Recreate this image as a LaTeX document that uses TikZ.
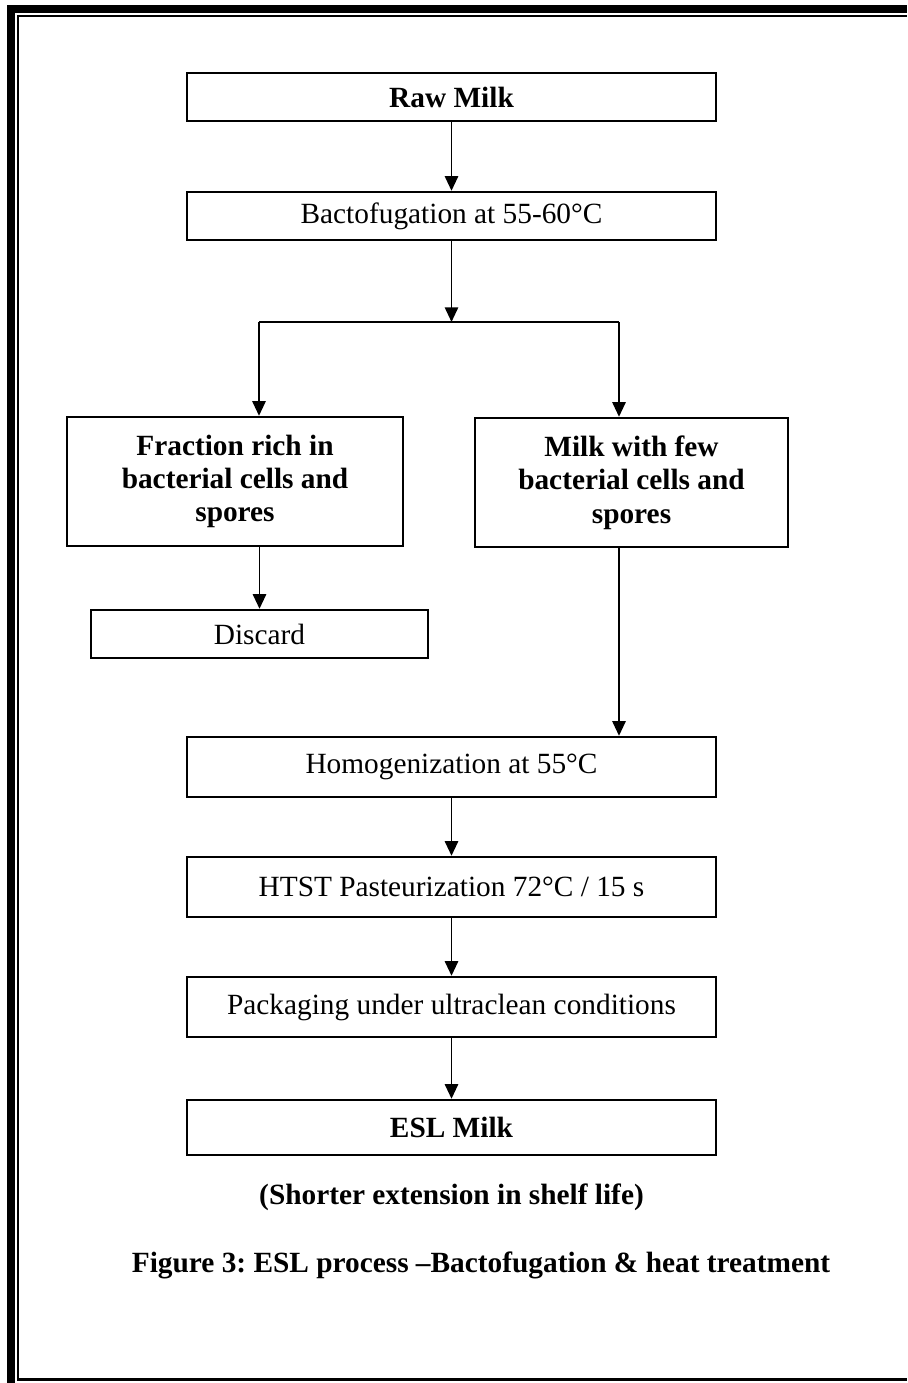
\documentclass[tikz,border=0pt]{standalone}
\usepackage{fontspec}
\setmainfont{Liberation Serif}
\usetikzlibrary{arrows.meta}
\frenchspacing
\tikzset{
  box/.style={draw, line width=1.8pt, inner sep=0pt, align=center,
    font=\fontsize{22}{25}\selectfont},
  boldbox/.style={box, font=\fontsize{22}{25}\selectfont\bfseries},
  arr/.style={line width=1.3pt, -{Triangle[length=11pt,width=10pt]}},
  link/.style={line width=1.3pt},
  capt/.style={font=\fontsize{22}{25}\selectfont\bfseries\frenchspacing, inner sep=0pt}
}
\begin{document}
\begin{tikzpicture}[x=0.75pt,y=-0.75pt]
\useasboundingbox (0,0) rectangle (907,1383);
% page frame
\fill (7,5) rectangle (15,1383);
\fill (7,5) rectangle (907,13);
\fill (17,15) rectangle (19,1381);
\fill (17,15) rectangle (907,17);
\fill (17,1378) rectangle (907,1381);
% boxes
\node[boldbox, minimum width=529*0.75pt, minimum height=48*0.75pt] (raw) at (451.5,97) {Raw Milk};
\node[box, minimum width=529*0.75pt, minimum height=48*0.75pt] (bacto) at (451.5,216) {Bactofugation at 55-60°C};
\node[boldbox, minimum width=336*0.75pt, minimum height=129*0.75pt] (frac) at (235,481.5) {Fraction rich in\\bacterial cells and\\spores};
\node[boldbox, minimum width=313*0.75pt, minimum height=129*0.75pt] (few) at (631.5,482.5) {Milk with few\\bacterial cells and\\spores};
\node[box, minimum width=337*0.75pt, minimum height=48*0.75pt] (discard) at (259.5,634) {Discard};
\node[box, minimum width=529*0.75pt, minimum height=60*0.75pt] (homog) at (451.5,767) {Homogenization at 55°C};
\node[box, minimum width=529*0.75pt, minimum height=60*0.75pt] (htst) at (451.5,887) {HTST Pasteurization 72°C / 15 s};
\node[box, minimum width=529*0.75pt, minimum height=60*0.75pt] (pack) at (451.5,1007) {Packaging under ultraclean conditions};
\node[boldbox, minimum width=529*0.75pt, minimum height=55*0.75pt] (esl) at (451.5,1127.5) {ESL Milk};
% captions
\node[capt] (shelf) at (451.5,1197) {(Shorter extension in shelf life)};
\node[capt] (fig) at (481,1265) {Figure 3: ESL process –Bactofugation \& heat treatment};
% connectors
\coordinate (split) at (451.5,322);
\coordinate (bl) at (259,322);
\coordinate (br) at (619,322);
\draw[arr] (raw) -- (bacto);
\draw[arr] (bacto) -- (split);
\draw[link] (bl) -- (br);
\draw[arr] (bl) -- (bl |- frac.north);
\draw[arr] (br) -- (br |- few.north);
\draw[arr] (frac.south -| discard.north) -- (discard.north);
\draw[arr] (few.south -| br) -- (br |- homog.north);
\draw[arr] (homog) -- (htst);
\draw[arr] (htst) -- (pack);
\draw[arr] (pack) -- (esl);
\end{tikzpicture}
\end{document}
